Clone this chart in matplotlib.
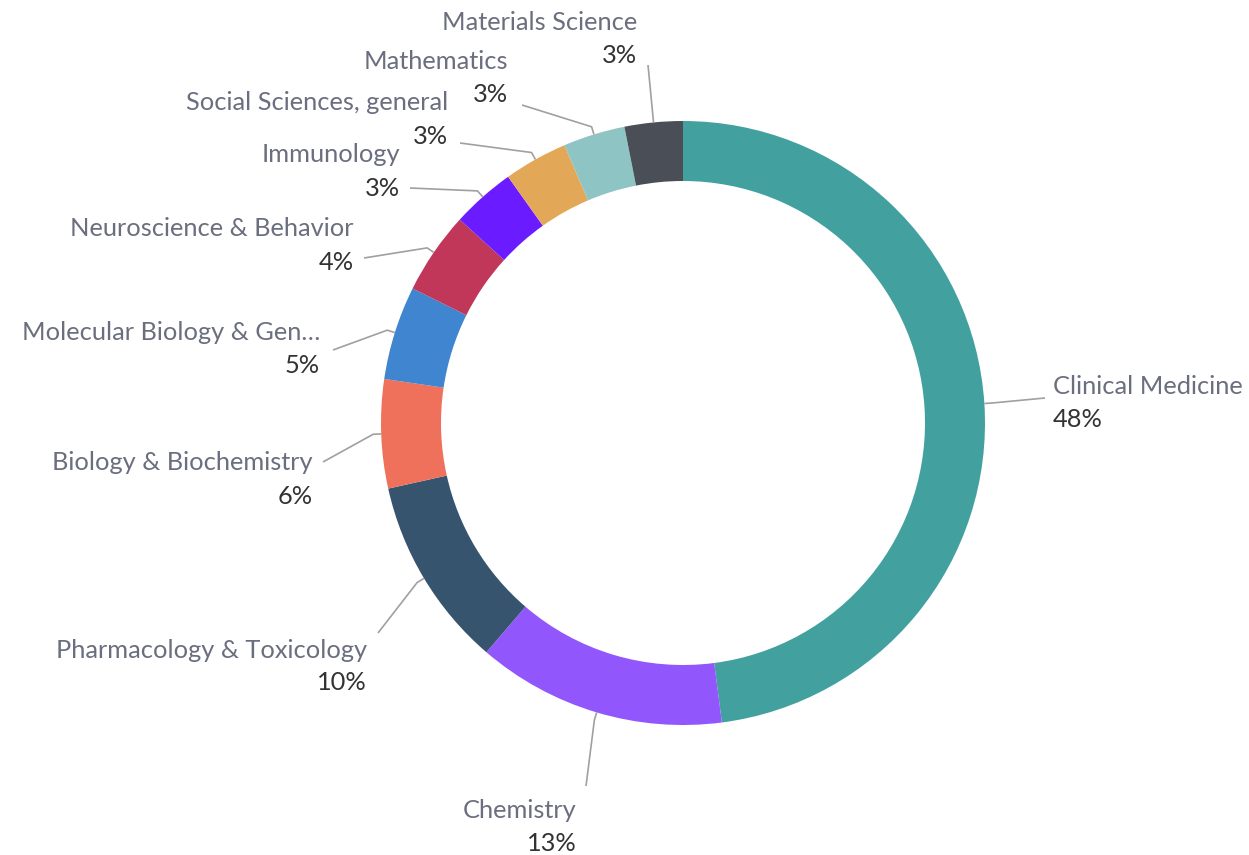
import numpy as np
import matplotlib
matplotlib.use('Agg')
import matplotlib.pyplot as plt

# dados do gráfico
categorias = ['Clinical Medicine', 'Chemistry', 'Pharmacology & Toxicology',
              'Biology & Biochemistry', 'Molecular Biology & Gen…',
              'Neuroscience & Behavior', 'Immunology', 'Social Sciences, general',
              'Mathematics', 'Materials Science']
valores = [47.8, 13.3, 10.2, 5.8, 5.0, 4.4, 3.4, 3.4, 3.3, 3.1]
cores = ['#42a19f', '#9157fd', '#37546f', '#ef705b', '#3f85cf',
         '#c0375a', '#6a1bff', '#e3a857', '#8ec4c4', '#4a4e57']

# posição dos rótulos em pixels: (x do texto, y do nome, alinhamento, x fim conector, y fim conector)
layout = [
    (1053, 387, 'left', 1045, 398),
    (577, 810, 'right', 586, 786),
    (367, 650, 'right', 378, 633),
    (313, 463, 'right', 323, 462),
    (320, 333, 'right', 333, 350),
    (354, 229, 'right', 364, 258),
    (400, 155, 'right', 410, 188),
    (448, 103, 'right', 460, 143),
    (508, 62, 'right', 522, 105),
    (637, 23, 'right', 648, 65),
]

W, H = 1249, 855
cx, cy, R, largura = 683, H - 423, 302, 60

fig = plt.figure(figsize=(W / 100, H / 100), dpi=100)
ax = fig.add_axes([0, 0, 1, 1])
ax.pie(valores, colors=cores, startangle=90, counterclock=False,
       radius=R, center=(cx, cy), wedgeprops=dict(width=largura, linewidth=0))
ax.set_xlim(0, W)
ax.set_ylim(0, H)
ax.set_aspect('equal')
ax.axis('off')

total = sum(valores)
acum = np.cumsum(valores) - np.array(valores) / 2
for i, nome in enumerate(categorias):
    ang = np.deg2rad(90 - 360 * acum[i] / total)
    x0, y0 = cx + R * np.cos(ang), cy + R * np.sin(ang)
    x1, y1 = cx + (R + 8) * np.cos(ang), cy + (R + 8) * np.sin(ang)
    tx, ny, ha, ex, ey = layout[i]
    ax.plot([x0, x1, ex], [y0, y1, H - ey], color='#a0a0a0', lw=1.2,
            solid_capstyle='butt')
    ax.text(tx, H - ny, nome, ha=ha, va='center', fontsize=18.3,
            family='Lato', color='#6b6e7e')
    ax.text(tx, H - ny - 33, f'{valores[i]:.0f}%', ha=ha, va='center',
            fontsize=18.3, family='Lato', color='#333333')

fig.savefig('out.png', dpi=100, facecolor='white')
